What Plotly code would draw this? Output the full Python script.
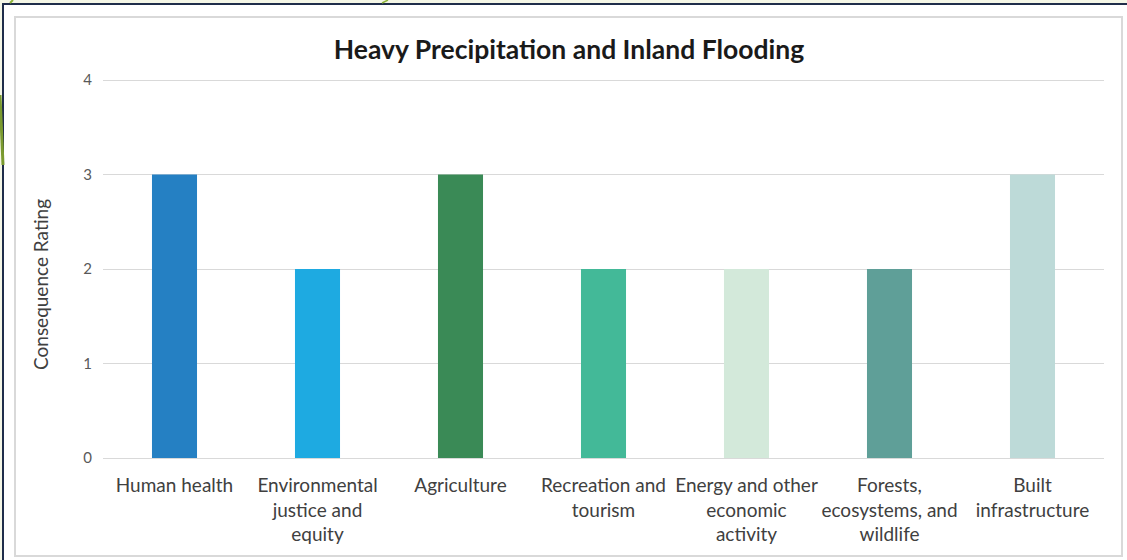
import plotly.graph_objects as go

categories = [
    "Human health",
    "Environmental<br>justice and<br>equity",
    "Agriculture",
    "Recreation and<br>tourism",
    "Energy and other<br>economic<br>activity",
    "Forests,<br>ecosystems, and<br>wildlife",
    "Built<br>infrastructure",
]
ratings = [3, 2, 3, 2, 2, 2, 3]
bar_colors = ["#2580C3", "#1EAAE1", "#3A8A56", "#43B998", "#D3E9DA", "#5F9F98", "#BDDAD8"]
y_ticks = [0, 1, 2, 3, 4]

W, H = 1127, 560
L, R, T, B = 103, 23, 75, 102
pw, ph = W - L - R, H - T - B
UNIT = 94.5  # pixels per rating unit


def px(x):
    return (x - L) / pw


def py(y):
    return (H - B - y) / ph


FONT = "Lato, 'Open Sans', sans-serif"

fig = go.Figure(go.Bar(
    x=categories, y=ratings, marker=dict(color=bar_colors, line=dict(width=0)),
    hoverinfo="x+y",
))

shapes = [
    # white slide area with navy border
    dict(type="rect", xref="paper", yref="paper", x0=px(3), x1=px(1130), y0=py(4), y1=py(563),
         fillcolor="white", line=dict(color="#1F2D4A", width=2), layer="below"),
    # light chart frame
    dict(type="rect", xref="paper", yref="paper", x0=px(15), x1=px(1122), y0=py(17), y1=py(556),
         fillcolor="rgba(0,0,0,0)", line=dict(color="#D9D9D9", width=2), layer="below"),
    # green decoration bits
    dict(type="line", xref="paper", yref="paper", x0=px(0), x1=px(3), y0=py(95), y1=py(165),
         line=dict(color="#7A9A2E", width=3), layer="below"),
    dict(type="line", xref="paper", yref="paper", x0=px(382), x1=px(388), y0=py(3), y1=py(0),
         line=dict(color="#8DB33A", width=1.5), layer="below"),
    dict(type="line", xref="paper", yref="paper", x0=px(10), x1=px(13), y0=py(3), y1=py(0),
         line=dict(color="#8DB33A", width=2), layer="below"),
]

fig.update_layout(
    width=W, height=H,
    margin=dict(l=L, r=R, t=T, b=B, autoexpand=False),
    paper_bgcolor="#F4F6E6",
    plot_bgcolor="white",
    bargap=0.685,
    showlegend=False,
    shapes=shapes,
    font=dict(family=FONT, color="#404040"),
    title=dict(text="<b>Heavy Precipitation and Inland Flooding</b>", x=569 / W, xanchor="center",
               y=1 - 50 / H, yanchor="middle", font=dict(size=26.5, color="#1A1A1A", family=FONT)),
    xaxis=dict(showgrid=False, showline=True, linecolor="#D9D9D9", linewidth=1, ticks="",
               tickfont=dict(size=19, color="#404040"), ticklabelstandoff=10, fixedrange=True),
    yaxis=dict(range=[0, ph / UNIT], tickvals=y_ticks, showgrid=True, gridcolor="#D9D9D9", gridwidth=1,
               zeroline=False, showline=False, ticks="", ticklabelstandoff=10,
               tickfont=dict(size=15, color="#595959"), fixedrange=True),
    annotations=[dict(text="Consequence Rating", xref="paper", yref="paper", x=px(40), y=py(284),
                      xanchor="center", yanchor="middle", textangle=-90, showarrow=False,
                      font=dict(size=19, color="#404040", family=FONT))],
)

fig.write_html("out.html")
